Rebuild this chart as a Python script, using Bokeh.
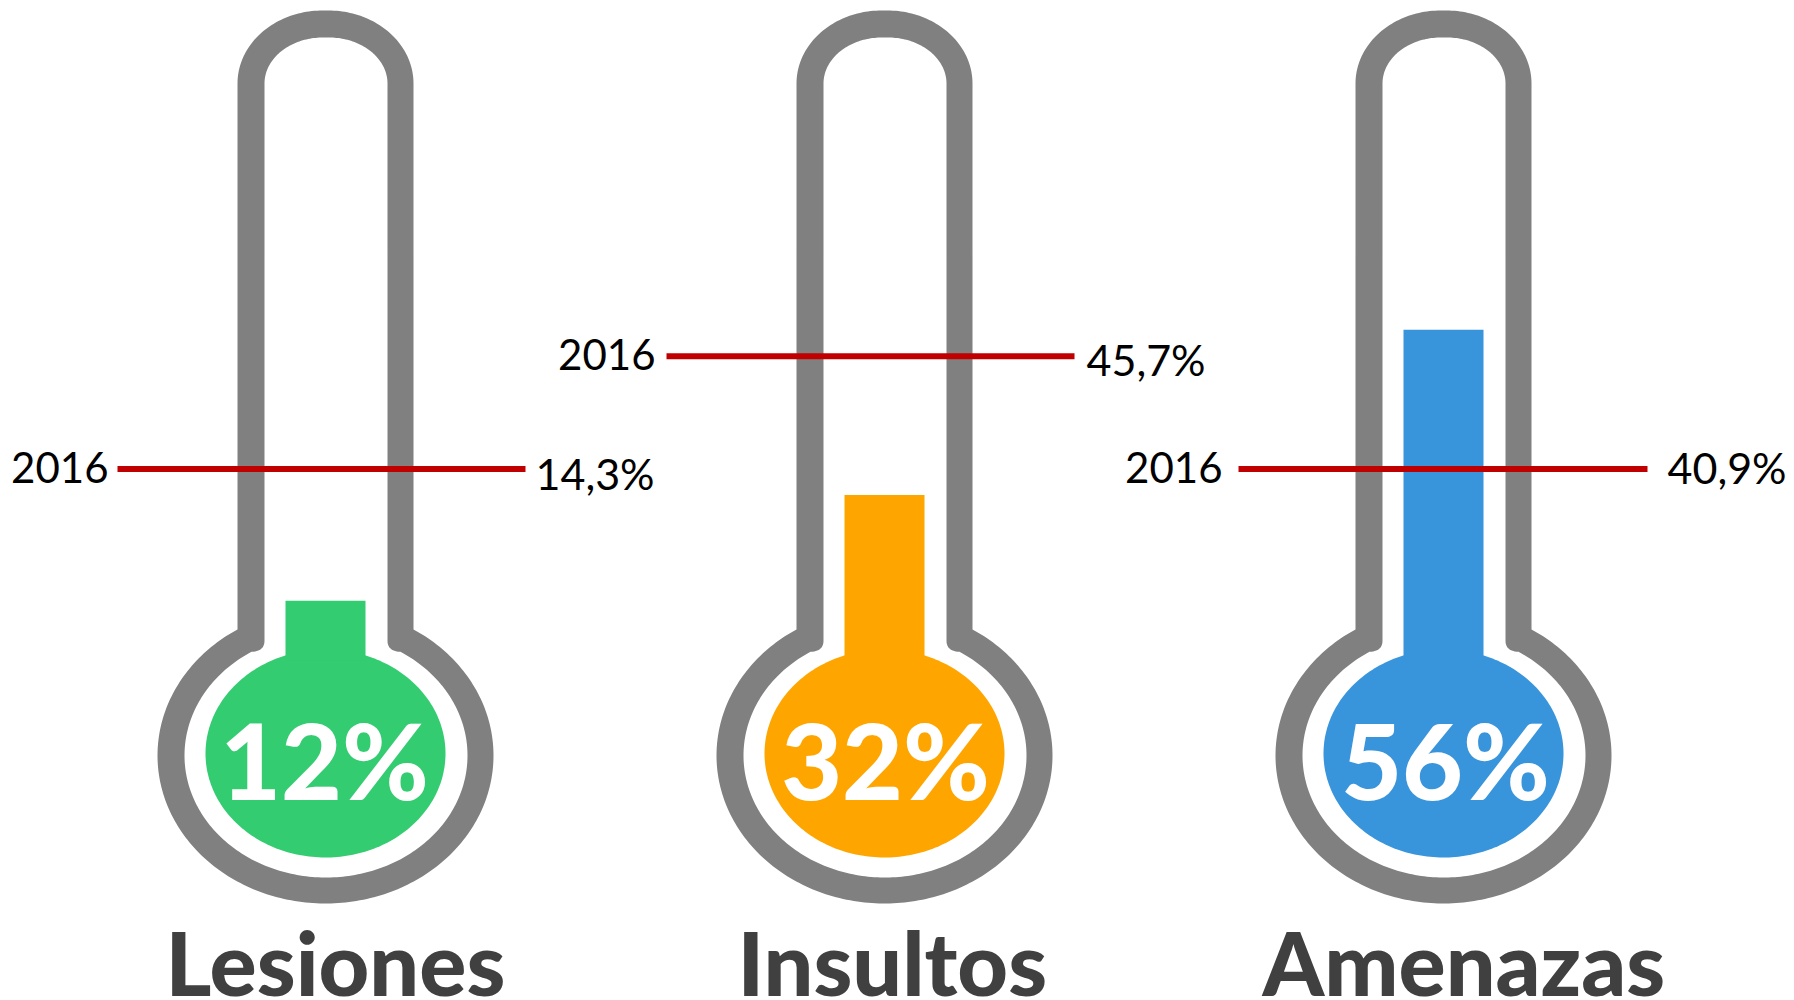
import numpy as np
from bokeh.plotting import figure
from bokeh.models import Range1d, ColumnDataSource
from bokeh.core.properties import value
from bokeh.embed import file_html
from bokeh.resources import INLINE

# ---- data ----
categories = ["Lesiones", "Insultos", "Amenazas"]
pct_2017 = [12, 32, 56]
pct_2016 = [14.3, 45.7, 40.9]
year_label = "2016"
# height of the drawn column / marker on the tube, in % of the tube height
fill_level = [9.0, 26.1, 52.8]
marker_level = [30.3, 48.5, 30.3]

# ---- styles ----
colors = ["#33CC70", "#FFA500", "#3894DB"]
GREY, RED, DARK = "#808080", "#C00000", "#404040"
FONT = "Lato"
HEAVY = "'Lato Black', Lato"

# ---- layout (page pixels) ----
W, H = 1794, 1000
centers = [325, 884, 1443]
line_x = [(117, 525), (666, 1074), (1238, 1647)]
line_labels_x = [(108, 535), (655, 1086), (1222, 1667)]
text_base_2016 = [483, 370, 483]
text_base_val = [489, 375, 483]
title_x = [165, 737, 1262]
pct_center = [324, 885, 1445]
BASE_SHIFT = 0.37  # em, the svg text sits this far below its alphabetic anchor


def Y(py):
    """page pixel row -> tube level"""
    return (656 - np.asarray(py, dtype=float)) / 6.19


def arc(cx, cy, rx, ry, a0, a1, n=120):
    t = np.radians(np.linspace(a0, a1, n))
    return cx + rx * np.cos(t), cy - ry * np.sin(t)


def outline(cx, half, top, arch_end, flat, neck_y, brx, bry, bcy=755, neck_dx=0, neck_round=0):
    xs, ys = [], []
    ax, ay = arc(cx + flat, arch_end, half - flat, arch_end - top, 90, 0, 50)
    bx, by = arc(cx - flat, arch_end, half - flat, arch_end - top, 180, 90, 50)
    xs += list(bx) + list(ax)
    ys += list(by) + list(ay)
    start = np.degrees(np.arccos((half + neck_dx) / brx))
    ex = (half + neck_dx)
    ey = bcy - bry * np.sin(np.radians(start))
    s = np.linspace(0, 1, 14)
    qx = (1 - s) ** 2 * half + 2 * s * (1 - s) * half + s ** 2 * ex
    qy = (1 - s) ** 2 * neck_y + 2 * s * (1 - s) * (neck_y + neck_round) + s ** 2 * ey
    xs += list(cx + qx)
    ys += list(qy)
    bx, by = arc(cx, bcy, brx, bry, start, -180 - start, 240)
    xs += list(bx)
    ys += list(by)
    xs += list(cx - qx[::-1])
    ys += list(qy[::-1])
    return np.array(xs), Y(ys)


p = figure(width=W, height=H, output_backend="svg", toolbar_location=None,
           x_range=Range1d(0, W), y_range=Range1d(float(Y(H)), float(Y(0))),
           min_border=0, background_fill_color="white", border_fill_color="white")
p.axis.visible = False
p.grid.visible = False
p.outline_line_color = None

for c, col in zip(centers, colors):
    ox, oy = outline(c, 88, 10, 83, 3, 632, 168, 148)
    p.patch(ox, oy, fill_color=GREY, line_color=None)
    ix, iy = outline(c + 0.5, 61.5, 37, 83, 3, 640, 141.5, 122, neck_dx=13, neck_round=11)
    p.patch(ix, iy, fill_color="white", line_color=None)
    ex, ey = arc(c, 753, 120, 104, 0, 360, 240)
    p.patch(ex, Y(ey), fill_color=col, line_color=None)

columns = ColumnDataSource(dict(x=centers, top=fill_level, color=colors,
                                bottom=[float(Y(660))] * 3))
p.vbar(x="x", top="top", bottom="bottom", width=80, fill_color="color",
       line_color=None, source=columns)

p.segment(x0=[a for a, _ in line_x], x1=[b for _, b in line_x],
          y0=marker_level, y1=marker_level, line_color=RED, line_width=6, line_cap="butt")


def label(xs, base, texts, size, font, color, align, style="normal"):
    p.text(x=xs, y=Y(base), text=texts, y_offset=-BASE_SHIFT * size,
           text_font=value(font), text_font_style=style, text_font_size=f"{size}px",
           text_color=color, text_align=align, text_baseline="alphabetic")


label([a for a, _ in line_labels_x], text_base_2016, [year_label] * 3, 42, FONT, "black", "right")
label([b for _, b in line_labels_x], text_base_val,
      [f"{v:.1f}".replace(".", ",") + "%" for v in pct_2016], 43, FONT, "black", "left")
label(pct_center, [797] * 3, [f"{v}%" for v in pct_2017], 105, HEAVY, "white", "center", "bold")
label(title_x, [994] * 3, categories, 88, HEAVY, DARK, "left", "bold")

open("out.html", "w").write(file_html(p, INLINE))
